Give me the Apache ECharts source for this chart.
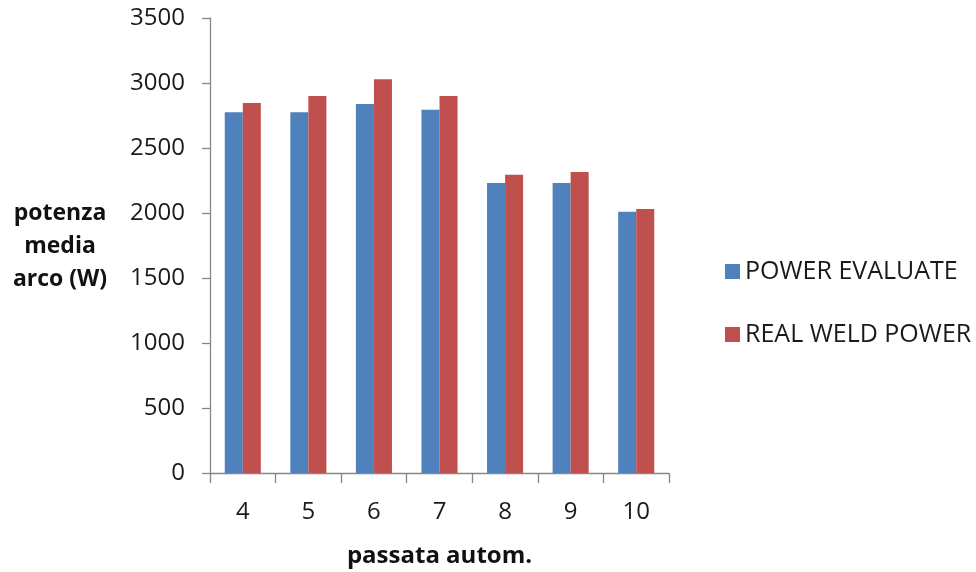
<!DOCTYPE html>
<html>
<head>
<meta charset="utf-8">
<script src="https://cdn.jsdelivr.net/npm/echarts@6/dist/echarts.min.js"></script>
<style>html,body{margin:0;padding:0;background:#fff;}#c{width:976px;height:572px;}</style>
</head>
<body>
<div id="c"></div>
<script>
const categories = ['4','5','6','7','8','9','10'];
const powerEvaluate = [2775, 2775, 2838, 2795, 2230, 2230, 2010];
const realWeldPower = [2846, 2900, 3028, 2900, 2295, 2315, 2030];
const seriesNames = ['POWER EVALUATE', 'REAL WELD POWER'];
const yTicks = {min: 0, max: 3500, interval: 500};

const FONT = '"Open Sans", sans-serif';
const chart = echarts.init(document.getElementById('c'));
chart.setOption({
  animation: false,
  grid: {left: 210, right: 307, top: 18, bottom: 99, containLabel: false, outerBoundsMode: 'none'},
  legend: {
    orient: 'vertical', left: 720, top: 254,
    itemWidth: 15, itemHeight: 15, itemGap: 38,
    icon: 'rect',
    textStyle: {fontFamily: FONT, fontSize: 25, color: '#1a1a1a', padding: [0,0,0,0]},
    data: seriesNames
  },
  graphic: [{
    type: 'text', x: 60, y: 246,
    style: {
      text: 'potenza\nmedia\narco (W)',
      font: 'bold 23px ' + FONT, fill: '#111',
      align: 'center', verticalAlign: 'middle', lineHeight: 33
    }
  }],
  xAxis: {
    type: 'category', data: categories,
    name: 'passata autom.', nameLocation: 'middle', nameGap: 71,
    nameTextStyle: {fontFamily: FONT, fontSize: 24, fontWeight: 'bold', color: '#111'},
    axisLine: {lineStyle: {color: '#868686', width: 1.3}},
    axisTick: {show: true, length: 10, lineStyle: {color: '#868686', width: 1.3}},
    axisLabel: {fontFamily: FONT, fontSize: 24, color: '#1a1a1a', margin: 27}
  },
  yAxis: {
    type: 'value', min: yTicks.min, max: yTicks.max, interval: yTicks.interval,
    axisLine: {show: true, lineStyle: {color: '#868686', width: 1.3}},
    axisTick: {show: true, length: 8, lineStyle: {color: '#868686', width: 1.3}},
    splitLine: {show: false},
    axisLabel: {fontFamily: FONT, fontSize: 24, color: '#1a1a1a', margin: 25, formatter: v => String(v)}
  },
  series: [
    {name: seriesNames[0], type: 'bar', data: powerEvaluate, barGap: '0%', barCategoryGap: '45%',
     itemStyle: {color: '#4F81BD'}},
    {name: seriesNames[1], type: 'bar', data: realWeldPower, barGap: '0%', barCategoryGap: '45%',
     itemStyle: {color: '#C0504D'}}
  ]
});
</script>
</body>
</html>
